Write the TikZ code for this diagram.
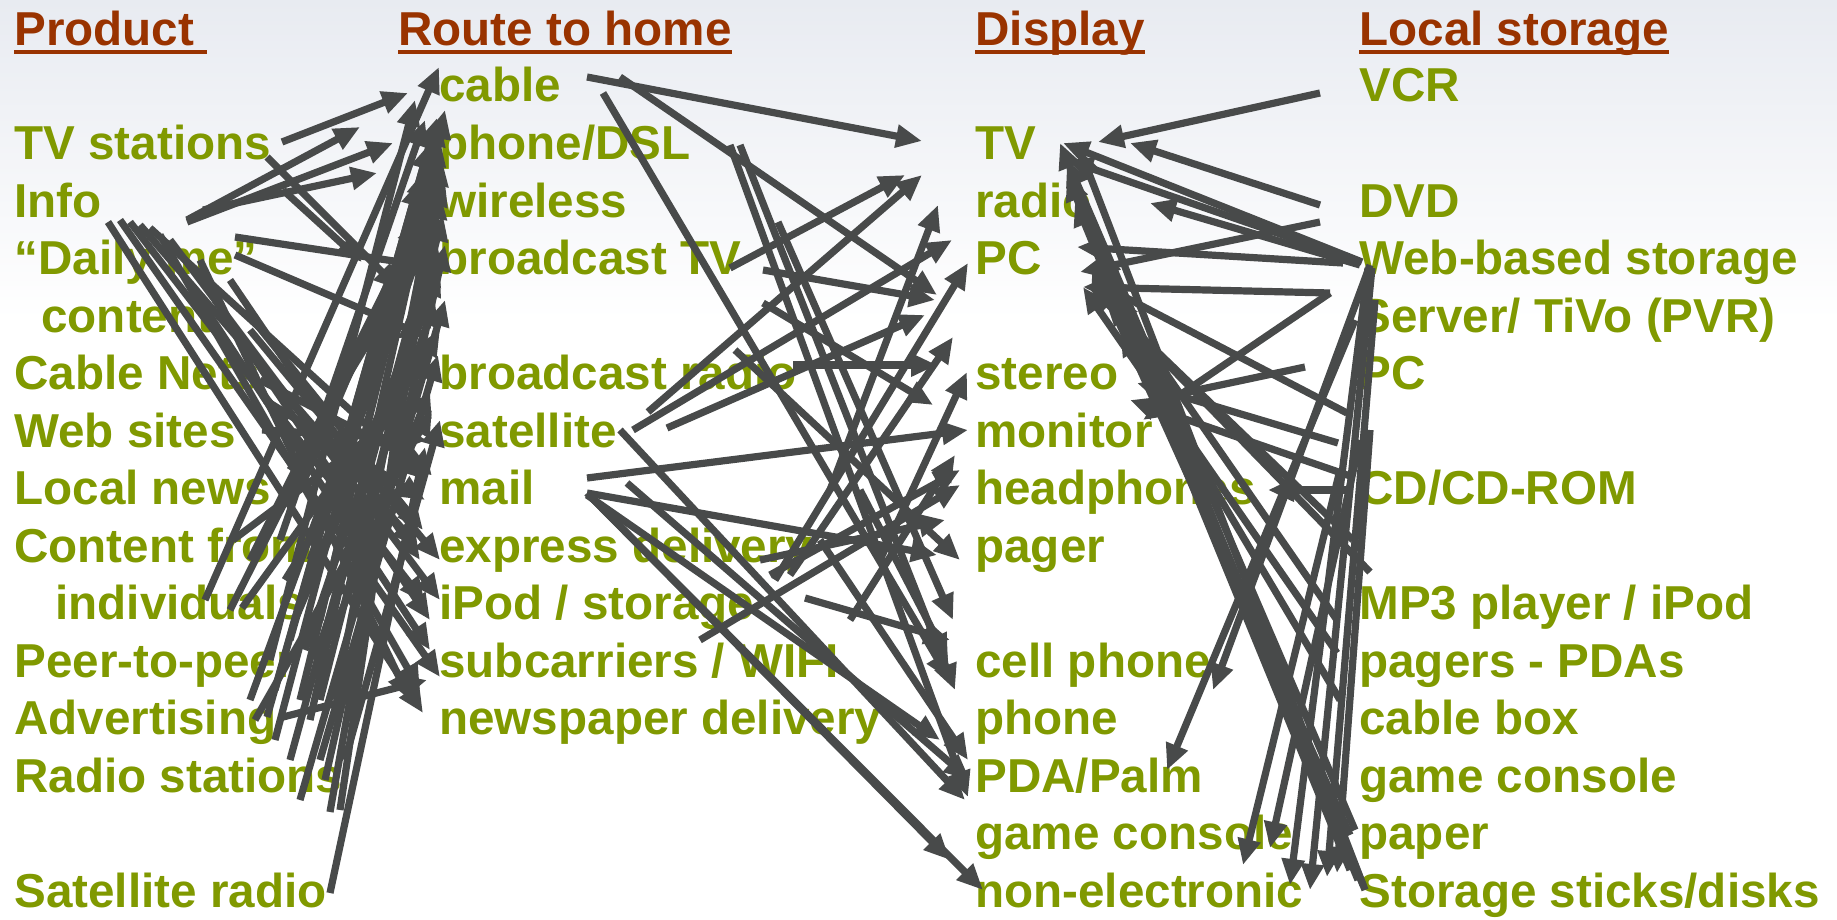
\documentclass[tikz,border=0pt]{standalone}
\usepackage{fontspec}
\setmainfont{Liberation Sans}
\usetikzlibrary{arrows.meta}
\definecolor{itemgreen}{RGB}{128,153,0}
\definecolor{headred}{RGB}{153,51,0}
\definecolor{linkgray}{RGB}{72,74,74}
\definecolor{bgtop}{RGB}{232,235,241}
\tikzset{
    item/.style={anchor=base west, inner sep=0pt, text=itemgreen, font=\fontsize{23.8}{28}\selectfont\bfseries},
    head/.style={item, text=headred},
    uline/.style={draw=headred, line width=2pt},
    link/.style={draw=linkgray, line width=3.6pt, -{Triangle[length=13pt,width=11pt]}},
}
\begin{document}
\begin{tikzpicture}[x=0.5pt, y=-0.5pt]
    \useasboundingbox (0,0) rectangle (1837,920);
    \fill[white] (0,0) rectangle (1837,920);
    \shade[top color=bgtop, bottom color=white] (0,0) rectangle (1837,320);

    % column heads
    \node[head] (prod)  at (14,46)   {Product\kern6pt};
    \node[head] (route) at (398,46)  {Route to home};
    \node[head] (disp)  at (975,46)  {Display};
    \node[head] (store) at (1359,46) {Local storage};
    \foreach \h in {prod, route, disp, store}
        \draw[uline] ([yshift=-3pt]\h.base west) -- ([yshift=-3pt]\h.base east);

    % products
    \node[item] (tvst)    at (14,159.5) {TV stations};
    \node[item] (info)    at (14,217)   {Info};
    \node[item] (daily)   at (14,274.5) {“Daily me”};
    \node[item] (content) at (41,332)   {content};
    \node[item] (cnets)   at (14,389.5) {Cable Nets};
    \node[item] (websites) at (14,447)  {Web sites};
    \node[item] (lnews)   at (14,504.5) {Local news};
    \node[item] (cfrom)   at (14,562)   {Content from};
    \node[item] (indiv)   at (55,619.5) {individuals};
    \node[item] (peer)    at (14,677)   {Peer-to-peer};
    \node[item] (advert)  at (14,734.5) {Advertising};
    \node[item] (rstat)   at (14,792)   {Radio stations};
    \node[item] (satr)    at (14,907)   {Satellite radio};

    % routes to home
    \node[item] (cable)   at (439,102)   {cable};
    \node[item] (dsl)     at (439,159.5) {phone/DSL};
    \node[item] (wless)   at (439,217)   {wireless};
    \node[item] (btv)     at (439,274.5) {broadcast TV};
    \node[item] (bradio)  at (439,389.5) {broadcast radio};
    \node[item] (sat)     at (439,447)   {satellite};
    \node[item] (mail)    at (439,504.5) {mail};
    \node[item] (express) at (439,562)   {express delivery};
    \node[item] (ipod)    at (439,619.5) {iPod / storage};
    \node[item] (subc)    at (439,677)   {subcarriers / WIFI};
    \node[item] (npaper)  at (439,734.5) {newspaper delivery};

    % displays
    \node[item] (tv)      at (975,159.5) {TV};
    \node[item] (radio)   at (975,217)   {radio};
    \node[item] (pc)      at (975,274.5) {PC};
    \node[item] (stereo)  at (975,389.5) {stereo};
    \node[item] (monitor) at (975,447)   {monitor};
    \node[item] (headph)  at (975,504.5) {headphones};
    \node[item] (pager)   at (975,562)   {pager};
    \node[item] (cell)    at (975,677)   {cell phone};
    \node[item] (phone)   at (975,734.5) {phone};
    \node[item] (pda)     at (975,792)   {PDA/Palm};
    \node[item] (gamed)   at (975,849.5) {game console};
    \node[item] (nonel)   at (975,907)   {non-electronic};

    % local storage
    \node[item] (vcr)     at (1359,102)   {VCR};
    \node[item] (dvd)     at (1359,217)   {DVD};
    \node[item] (webst)   at (1359,274.5) {Web-based storage};
    \node[item] (server)  at (1359,332)   {Server/ TiVo (PVR)};
    \node[item] (pcst)    at (1359,389.5) {PC};
    \node[item] (cd)      at (1359,504.5) {CD/CD-ROM};
    \node[item] (mp3)     at (1359,619.5) {MP3 player / iPod};
    \node[item] (pdas)    at (1359,677)   {pagers - PDAs};
    \node[item] (cbox)    at (1359,734.5) {cable box};
    \node[item] (games)   at (1359,792)   {game console};
    \node[item] (paper)   at (1359,849.5) {paper};
    \node[item] (sticks)  at (1359,907)   {Storage sticks/disks};

    % product -> route
    \foreach \a/\b in {
        {282,142}/{408,93}, {187,220}/{360,127}, {203,210}/{377,173}, {187,222}/{393,143},
        {235,237}/{440,268}, {205,600}/{439,67}, {108,222}/{423,713}, {120,220}/{440,677},
        {130,222}/{425,603}, {267,157}/{400,290}, {283,190}/{362,262}, {330,893}/{425,447},
        {330,812}/{440,193}, {340,810}/{443,113}, {250,700}/{428,213}, {267,717}/{430,143},
        {283,717}/{427,680}, {233,540}/{423,397}, {242,608}/{427,353}, {262,430}/{427,440},
        {140,225}/{418,547}, {150,228}/{427,480}, {245,310}/{423,530}, {260,380}/{428,467},
        {235,255}/{427,337}, {270,660}/{415,100}, {275,690}/{437,118}, {300,490}/{440,160},
        {290,470}/{425,250}, {250,560}/{420,220}, {300,600}/{440,270}, {315,660}/{435,300},
        {255,720}/{432,410}, {320,760}/{438,355}, {230,610}/{440,195}, {170,240}/{440,600},
        {180,270}/{430,650}, {230,280}/{420,560}, {325,780}/{445,245}, {290,640}/{420,180},
        {300,700}/{445,110}, {310,720}/{440,140}, {320,700}/{443,215}, {305,650}/{438,260},
        {295,620}/{430,300}, {285,580}/{440,330}, {310,560}/{445,180}, {320,620}/{440,120},
        {335,700}/{442,160}, {280,540}/{425,120}, {300,800}/{445,300}, {290,760}/{435,230},
        {275,740}/{425,170}, {345,760}/{440,420}, {330,640}/{430,390}, {160,235}/{420,690},
        {200,260}/{410,700}, {215,300}/{430,620}, {250,330}/{440,560}, {265,400}/{425,500}}
        \draw[link] (\a) -- (\b);

    % route -> display
    \foreach \a/\b in {
        {587,77}/{922,141}, {620,77}/{937,295}, {603,93}/{950,680}, {730,145}/{968,797},
        {740,145}/{955,690}, {778,222}/{953,620}, {730,268}/{905,175}, {648,412}/{922,175},
        {830,490}/{938,205}, {633,430}/{952,240}, {775,580}/{968,263}, {763,270}/{935,300},
        {763,303}/{933,405}, {793,365}/{937,365}, {667,428}/{925,315}, {587,478}/{968,430},
        {790,575}/{953,337}, {880,560}/{967,372}, {620,430}/{965,800}, {587,493}/{937,555},
        {587,493}/{950,860}, {592,498}/{983,890}, {587,495}/{940,740}, {627,483}/{970,780},
        {770,575}/{960,470}, {805,598}/{950,640}, {760,560}/{945,520}, {850,620}/{955,455},
        {820,540}/{968,760}, {735,350}/{960,560}, {860,490}/{948,660}, {700,640}/{960,485}}
        \draw[link] (\a) -- (\b);

    % storage -> display
    \foreach \a/\b in {
        {1320,93}/{1098,142}, {1320,205}/{1130,143}, {1362,262}/{1063,143}, {1360,265}/{1150,203},
        {1320,222}/{1080,272}, {1343,263}/{1077,247}, {1355,260}/{1067,160}, {1370,265}/{1213,690},
        {1355,320}/{1167,770}, {1340,470}/{1243,865}, {1360,440}/{1270,848}, {1363,885}/{1060,143},
        {1358,880}/{1067,175}, {1355,830}/{1067,160}, {1350,835}/{1092,263}, {1337,653}/{1083,287},
        {1337,620}/{1113,297}, {1347,413}/{1098,283}, {1338,443}/{1137,383}, {1353,477}/{1130,400},
        {1353,490}/{1268,490}, {1372,268}/{1310,890}, {1375,300}/{1327,877}, {1370,430}/{1337,873},
        {1353,540}/{1090,287}, {1370,572}/{1105,300}, {1330,293}/{1143,420}, {1305,367}/{1150,400},
        {1330,293}/{1083,287}, {1365,890}/{1080,150}, {1350,870}/{1075,200}, {1345,845}/{1100,250},
        {1340,700}/{1120,330}, {1368,268}/{1290,885}}
        \draw[link] (\a) -- (\b);
\end{tikzpicture}
\end{document}
